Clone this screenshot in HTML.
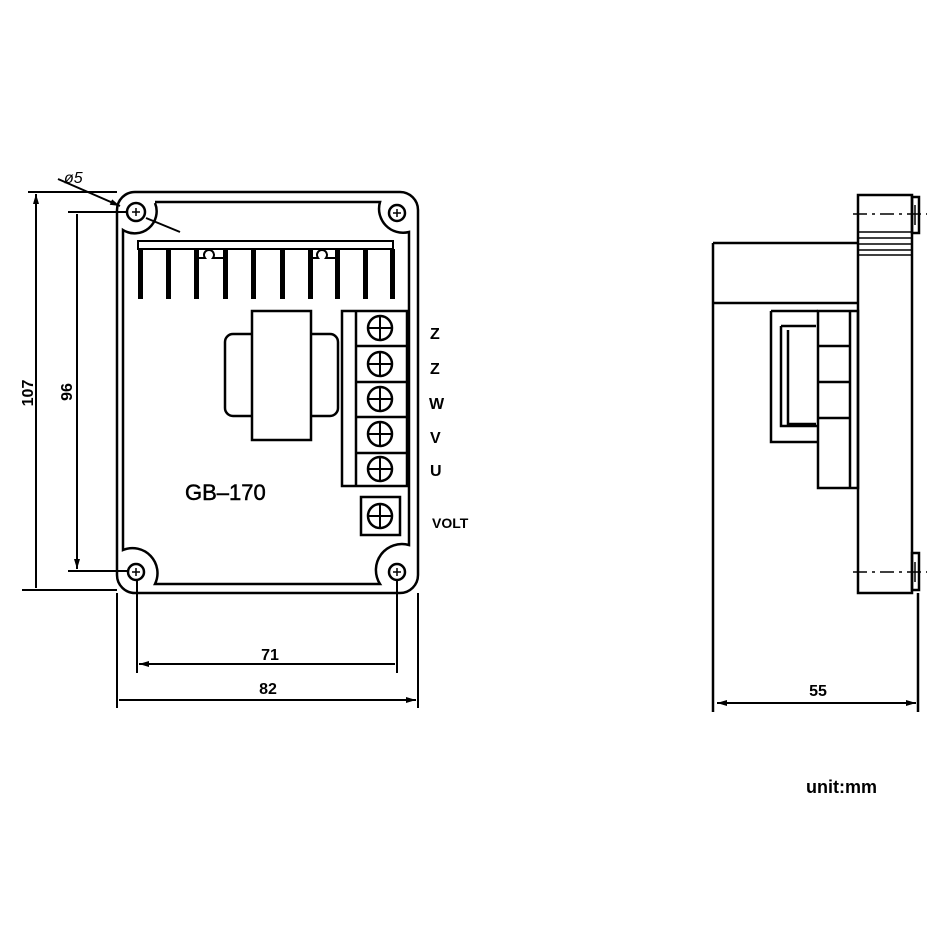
<!DOCTYPE html>
<html><head><style>body{margin:0;background:#fff}svg{display:block}</style></head><body>
<svg width="950" height="950" viewBox="0 0 950 950" xmlns="http://www.w3.org/2000/svg" font-family="Liberation Sans, sans-serif">
<defs>
<marker id="a" viewBox="0 0 10 6" refX="10" refY="3" markerWidth="10" markerHeight="6" orient="auto-start-reverse" markerUnits="userSpaceOnUse"><path d="M0,0 L10,3 L0,6z" fill="#000"/></marker>
</defs>
<g stroke="#000" fill="none" stroke-width="2.5">
<rect x="117" y="192" width="301" height="401" rx="18"/>
<path d="M155,202 L380,202 A24,24 0 0 0 409,232 L409,545 A26,26 0 0 0 380,584 L155,584 A25,25 0 0 0 123,550 L123,230 A22,22 0 0 0 155,203"/>
<circle cx="136" cy="212" r="9"/><circle cx="397" cy="213" r="8"/>
<circle cx="136" cy="572" r="8"/><circle cx="397" cy="572" r="8"/>
<g stroke-width="1.5"><path d="M132,212h8M136,208v8M393,213h8M397,209v8M132,572h8M136,568v8M393,572h8M397,568v8"/></g>
<path d="M138,241 H393 V249 H138 Z" stroke-width="2"/>
</g>
<g fill="#000">
<rect x="138" y="249" width="5" height="50"/><rect x="166" y="249" width="5" height="50"/>
<rect x="194" y="249" width="5" height="50"/><rect x="223" y="249" width="5" height="50"/>
<rect x="251" y="249" width="5" height="50"/><rect x="280" y="249" width="5" height="50"/>
<rect x="308" y="249" width="5" height="50"/><rect x="335" y="249" width="5" height="50"/>
<rect x="363" y="249" width="5" height="50"/><rect x="390" y="249" width="5" height="50"/>
</g>
<g stroke="#000" fill="none" stroke-width="2.5">
<path d="M199,258 h6 a5,5 0 1 1 8,0 h10" stroke-width="2"/>
<path d="M312,258 h6 a5,5 0 1 1 8,0 h9" stroke-width="2"/>
<rect x="225" y="334" width="113" height="82" rx="8"/>
<rect x="252" y="311" width="59" height="129" fill="#fff"/>
<rect x="342" y="311" width="65" height="175"/>
<path d="M356,311V486M356,346H407M356,382H407M356,417H407M356,453H407"/>
<circle cx="380" cy="328" r="12"/><circle cx="380" cy="364" r="12"/><circle cx="380" cy="399" r="12"/><circle cx="380" cy="434" r="12"/><circle cx="380" cy="469" r="12"/>
<path d="M368,328h24M380,316v24M368,364h24M380,352v24M368,399h24M380,387v24M368,434h24M380,422v24M368,469h24M380,457v24" stroke-width="2"/>
<rect x="361" y="497" width="39" height="38"/>
<circle cx="380" cy="516" r="12"/><path d="M368,516h24M380,504v24" stroke-width="2"/>
</g>
<g font-weight="bold" font-size="16" fill="#000">
<text x="430" y="339">Z</text><text x="430" y="374">Z</text><text x="429" y="409">W</text><text x="430" y="443">V</text><text x="430" y="476">U</text>
<text x="432" y="528" font-size="14">VOLT</text>
</g>
<text x="185" y="500" font-size="22" fill="#000" stroke="#000" stroke-width="0.5">GB–170</text>
<g stroke="#000" stroke-width="2" fill="none">
<path d="M28,192H117M22,590H117M68,212H128M68,571H128"/>
<path d="M36,194V588M77,214V569" marker-start="url(#a)" marker-end="url(#a)"/>
<path d="M58,179L120,206" marker-end="url(#a)"/><path d="M146,218L180,232"/>
<path d="M137,580V673M397,580V673M117,593V708M418,593V708"/>
<path d="M139,664H395M119,700H416" marker-start="url(#a)" marker-end="url(#a)"/>
</g>
<g fill="#000" font-weight="bold" font-size="16">
<text transform="translate(33,393) rotate(-90)" text-anchor="middle">107</text>
<text transform="translate(72,392) rotate(-90)" text-anchor="middle">96</text>
<text x="270" y="660" text-anchor="middle">71</text>
<text x="268" y="694" text-anchor="middle">82</text>
<text x="818" y="696" text-anchor="middle">55</text>
<text x="806" y="793" font-size="18">unit:mm</text>
<text x="64" y="183" font-size="16" font-style="italic" font-weight="normal">ø5</text>
</g>
<g stroke="#000" stroke-width="2.5" fill="none">
<rect x="858" y="195" width="54" height="398"/>
<rect x="912" y="197" width="7" height="36"/><rect x="912" y="553" width="7" height="37"/>
<path d="M858,232H912M858,238H912M858,244H912M858,250H912M858,255H912" stroke-width="1.5"/>
<path d="M713,243H858M713,303H858M713,243V712"/>
<path d="M771,311H818M771,311V442H818M781,326V426H818M788,330V424H816M781,326H816"/>
<rect x="818" y="311" width="40" height="177"/>
<path d="M818,346H850M818,382H850M818,418H850M850,311V488"/>
<path d="M853,214H927M853,572H927" stroke-width="1.5" stroke-dasharray="14,5,3,5"/>
<path d="M915,205V225M915,562V582" stroke-width="1.5"/>
<path d="M918,593V712"/>
<path d="M717,703H916" stroke-width="2" marker-start="url(#a)" marker-end="url(#a)"/>
</g>
</svg>
</body></html>
